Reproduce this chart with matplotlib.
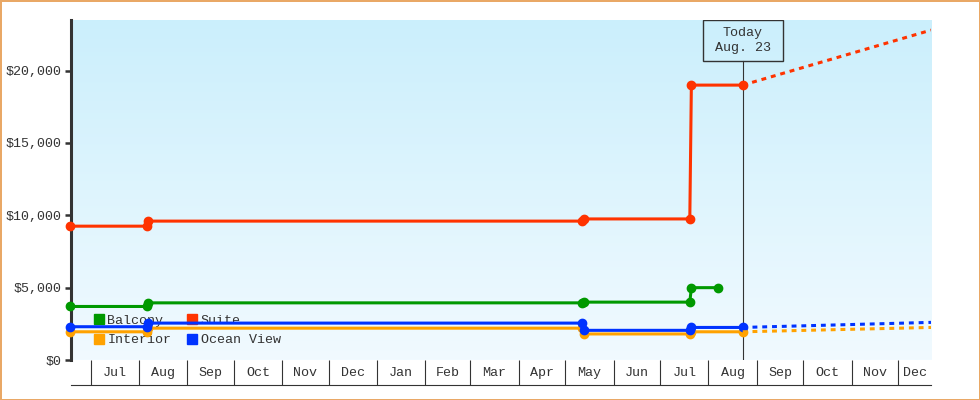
import matplotlib
matplotlib.use('Agg')
import matplotlib.pyplot as plt
import matplotlib.dates as mdates
from matplotlib.patches import Rectangle
from matplotlib.ticker import FixedLocator, FuncFormatter
import numpy as np
import datetime as dt

plt.rcParams['font.family'] = ['Liberation Mono', 'DejaVu Sans Mono']

# cabin prices (two points on one date = a price change)
suite_dates = ['2015-06-18', '2015-08-06', '2015-08-07', '2016-05-12', '2016-05-13',
               '2016-07-20', '2016-07-21', '2016-08-23']
suite_prices = [9250, 9250, 9600, 9600, 9750, 9750, 19000, 19000]

balcony_dates = ['2015-06-18', '2015-08-06', '2015-08-07', '2016-05-12', '2016-05-13',
                 '2016-07-20', '2016-07-21', '2016-08-07']
balcony_prices = [3700, 3700, 3950, 3950, 4000, 4000, 5000, 5000]

ocean_dates = ['2015-06-18', '2015-08-06', '2015-08-07', '2016-05-12', '2016-05-13',
               '2016-07-20', '2016-07-21', '2016-08-23']
ocean_prices = [2300, 2300, 2550, 2550, 2050, 2050, 2250, 2250]

interior_dates = ['2015-06-18', '2015-08-06', '2015-08-07', '2016-05-12', '2016-05-13',
                  '2016-07-20', '2016-07-21', '2016-08-23']
interior_prices = [1950, 1950, 2200, 2200, 1800, 1800, 1950, 1950]

# forecast from today to the end of the axis
forecast_dates = ['2016-08-23', '2016-12-22']
suite_forecast = [19000, 22800]
ocean_forecast = [2250, 2600]
interior_forecast = [1950, 2250]

today = '2016-08-23'
today_label = 'Today\nAug. 23'
y_ticks = [0, 5000, 10000, 15000, 20000]

ink = '#333333'
fs = 9.6
colors = {'Balcony': '#009900', 'Suite': '#ff3300',
          'Interior': '#ffa200', 'Ocean View': '#0033ff'}


def d(s):
    return mdates.datestr2num(s) if isinstance(s, str) else mdates.date2num(s)


fig = plt.figure(figsize=(9.8, 4), dpi=100)
fig.patch.set_edgecolor('#e9a866')
fig.patch.set_linewidth(2)
ax = fig.add_axes([71 / 980, 40 / 400, 860 / 980, 340 / 400])

x0 = d(dt.datetime(2015, 6, 18, 8))
x1 = d('2016-12-22')
ax.set_xlim(x0, x1)
ax.set_ylim(0, 23500)

# background gradient
grad = np.linspace(0, 1, 256).reshape(-1, 1)
top = np.array([203, 239, 252]) / 255
bot = np.array([241, 250, 255]) / 255
img = top * (1 - grad[..., None]) + bot * grad[..., None]
ax.imshow(img, extent=[0, 1, 0, 1], transform=ax.transAxes, aspect='auto', zorder=0)

series = [('Balcony', balcony_dates, balcony_prices),
          ('Suite', suite_dates, suite_prices),
          ('Interior', interior_dates, interior_prices),
          ('Ocean View', ocean_dates, ocean_prices)]
for name, ds, ps in series:
    ax.plot([d(s) for s in ds], ps, color=colors[name], lw=2.2, marker='o',
            markersize=6, zorder=3, clip_on=False)

for name, fc in [('Suite', suite_forecast), ('Interior', interior_forecast),
                 ('Ocean View', ocean_forecast)]:
    ax.plot([d(s) for s in forecast_dates], fc, color=colors[name], lw=2.2,
            ls=(0, (1.6, 1.6)), zorder=3)

# today marker
tx = d(today)
tf = (tx - x0) / (x1 - x0)
ax.plot([tx, tx], [0, (360 - 61) / 340], color=ink, lw=0.8,
        transform=ax.get_xaxis_transform(), zorder=2)
ax.add_patch(Rectangle((tf - 40 / 860, (360 - 61) / 340), 80 / 860, 41 / 340,
                       transform=ax.transAxes, fill=False, edgecolor=ink,
                       lw=1, zorder=4))
ax.text(tx, (360 - 40.5) / 340, today_label, transform=ax.get_xaxis_transform(),
        ha='center', va='center', fontsize=fs, color=ink, linespacing=1.3,
        zorder=4)

# y axis
for s in ['top', 'right', 'bottom']:
    ax.spines[s].set_visible(False)
ax.spines['left'].set_linewidth(2.2)
ax.spines['left'].set_color(ink)
ax.yaxis.set_major_locator(FixedLocator(y_ticks))
ax.yaxis.set_major_formatter(FuncFormatter(lambda v, p: '${:,.0f}'.format(v)))
ax.tick_params(axis='y', length=4.5, width=1.8, color=ink, labelsize=fs,
               labelcolor=ink, pad=2)

# x axis: month boxes
month_starts = [d(dt.datetime(2015 + (6 + i) // 12, (6 + i) % 12 + 1, 1)) for i in range(18)]
edges = month_starts + [x1]
mids = [(a + b) / 2 for a, b in zip(edges[:-1], edges[1:])]
ax.xaxis.set_major_locator(FixedLocator(month_starts))
ax.xaxis.set_major_formatter(FuncFormatter(lambda v, p: ''))
ax.xaxis.set_minor_locator(FixedLocator(mids))
ax.xaxis.set_minor_formatter(mdates.DateFormatter('%b'))
ax.tick_params(axis='x', which='major', length=18, width=0.8, color=ink, direction='out')
ax.tick_params(axis='x', which='minor', length=0, labelsize=fs, labelcolor=ink, pad=5)
ax.plot([0, 1], [-25 / 340, -25 / 340], color=ink, lw=0.8,
        transform=ax.transAxes, clip_on=False)

# legend
handles = [plt.Line2D([], [], ls='none', marker='s', markersize=7.5,
                      color=colors[n]) for n in ['Balcony', 'Interior', 'Suite', 'Ocean View']]
leg = ax.legend(handles, ['Balcony', 'Interior', 'Suite', 'Ocean View'], ncol=2,
                loc='upper left', bbox_to_anchor=(0.026, 0.134), frameon=False,
                borderpad=0, borderaxespad=0, handlelength=0.8, handletextpad=0.25,
                columnspacing=1.15, labelspacing=0.55, fontsize=fs, labelcolor=ink)
leg.set_zorder(1)

fig.savefig('out.png', dpi=100)
